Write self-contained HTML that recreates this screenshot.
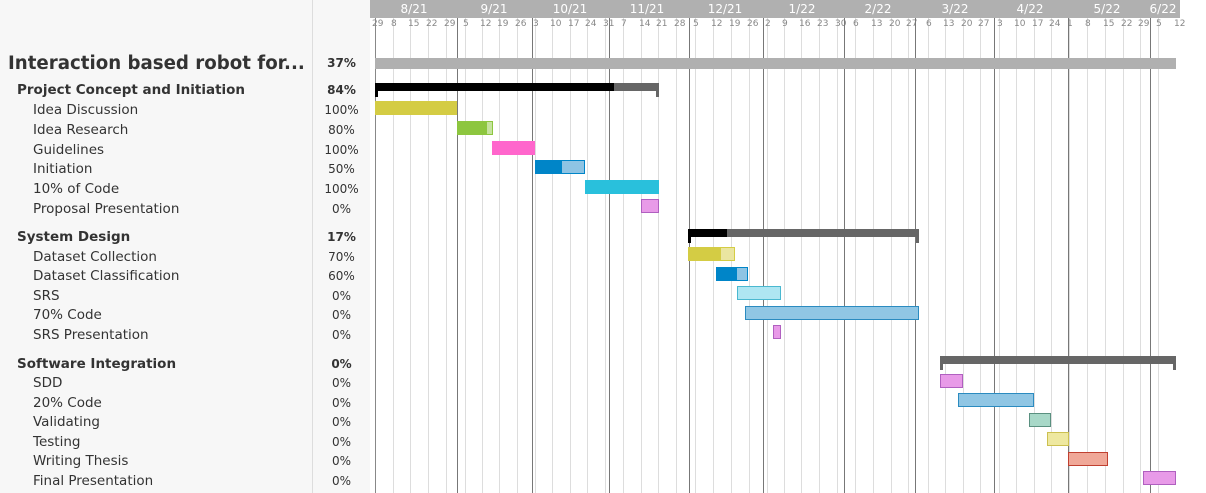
<!DOCTYPE html>
<html><head><meta charset="utf-8"><style>
*{margin:0;padding:0;box-sizing:border-box}
body{width:1206px;height:493px;position:relative;overflow:hidden;background:#fff;font-family:"DejaVu Sans","Liberation Sans",sans-serif;color:#333}
.a{position:absolute}
.lp{left:0;top:0;width:313px;height:493px;background:#f7f7f7;border-right:1px solid #ddd}
.pp{left:313px;top:0;width:57px;height:493px;background:#f7f7f7}
.t{position:absolute;white-space:nowrap;font-size:13.5px;line-height:16px}
.p{position:absolute;font-size:12px;line-height:16px;width:57px;left:313px;text-align:center}
.b{position:absolute;height:14px}
</style></head><body>
<div class="a lp"></div><div class="a pp"></div>
<div class="a" style="left:370px;top:0;width:810px;height:18px;background:#b0b0b0"></div>
<div id="g"></div>
<div id="r"></div>
<script>
var g='';
var weeks=[[375,'29'],[393,'8'],[410,'15'],[428,'22'],[446,'29'],[465,'5'],[482,'12'],[499,'19'],[517,'26'],[535,'3'],[552,'10'],[570,'17'],[587,'24'],[605,'31'],[623,'7'],[641,'14'],[658,'21'],[676,'28'],[695,'5'],[713,'12'],[731,'19'],[749,'26'],[767,'2'],[784,'9'],[801,'16'],[819,'23'],[837,'30'],[855,'6'],[873,'13'],[891,'20'],[908,'27'],[928,'6'],[945,'13'],[963,'20'],[980,'27'],[999,'3'],[1016,'10'],[1034,'17'],[1051,'24'],[1069,'1'],[1087,'8'],[1105,'15'],[1123,'22'],[1140,'29'],[1158,'5'],[1176,'12']];
weeks.forEach(function(w,i){
 if(i>0&&i<weeks.length-1) g+='<div class="a" style="left:'+w[0]+'px;top:18px;width:1px;height:475px;background:#ddd"></div>';
 g+='<div class="a" style="left:'+(w[0]-3+ (i==0?0:1))+'px;top:19px;font-size:9px;color:#888;line-height:11px">'+w[1]+'</div>';
});
g+='<div class="a" style="left:375px;top:18px;width:1px;height:475px;background:#888"></div>';
[457,532,609,689,763,844,915,994,1068,1150].forEach(function(x){g+='<div class="a" style="left:'+x+'px;top:18px;width:1px;height:475px;background:#777"></div>';});
[[414,'8/21'],[494,'9/21'],[570,'10/21'],[647,'11/21'],[725,'12/21'],[802,'1/22'],[878,'2/22'],[955,'3/22'],[1030,'4/22'],[1107,'5/22'],[1163,'6/22']].forEach(function(m){
 g+='<div class="a" style="left:'+(m[0]-30)+'px;width:60px;text-align:center;top:2px;font-size:12px;line-height:14px;color:#fff">'+m[1]+'</div>';});
document.getElementById('g').innerHTML=g;
var r='';
function T(x,y,s,st){r+='<div class="t" style="left:'+x+'px;top:'+(y-7)+'px;'+(st||'')+'">'+s+'</div>';}
function P(y,s,b){r+='<div class="p" style="top:'+(y-7)+'px;'+(b?'font-weight:bold':'')+'">'+s+'</div>';}
function B(x1,x2,y,c,bc){r+='<div class="b" style="left:'+x1+'px;width:'+(x2-x1)+'px;top:'+(y-7)+'px;background:'+c+';border:1px solid '+bc+'"></div>';}
function B2(x1,xm,x2,y,c1,c2,bc){r+='<div class="b" style="left:'+x1+'px;width:'+(x2-x1)+'px;top:'+(y-7)+'px;background:linear-gradient(90deg,'+c1+' 0,'+c1+' '+(xm-x1)+'px,'+c2+' '+(xm-x1)+'px);border:1px solid '+bc+'"></div>';}
function S(x1,xm,x2,y){r+='<div class="a" style="left:'+x1+'px;width:'+(x2-x1)+'px;top:'+y+'px;height:8px;background:linear-gradient(90deg,#000 0,#000 '+(xm-x1)+'px,#666 '+(xm-x1)+'px);"></div>';
 r+='<div class="a" style="left:'+x1+'px;top:'+y+'px;width:3px;height:14px;background:'+(xm>x1?'#000':'#666')+'"></div><div class="a" style="left:'+(x2-3)+'px;top:'+y+'px;width:3px;height:14px;background:#666"></div>';}
r+='<div class="t" style="left:8px;top:54px;font-size:18.2px;font-weight:bold;line-height:20px">Interaction based robot for...</div>';P(62,'37%',1);
r+='<div class="a" style="left:375px;top:58px;width:801px;height:11px;background:#b0b0b0"></div>';
var rows=[
[89,'Project Concept and Initiation','84%',1],[109,'Idea Discussion','100%'],[129,'Idea Research','80%'],[149,'Guidelines','100%'],[168,'Initiation','50%'],[188,'10% of Code','100%'],[208,'Proposal Presentation','0%'],
[236,'System Design','17%',1],[256,'Dataset Collection','70%'],[275,'Dataset Classification','60%'],[295,'SRS','0%'],[314,'70% Code','0%'],[334,'SRS Presentation','0%'],
[363,'Software Integration','0%',1],[382,'SDD','0%'],[402,'20% Code','0%'],[421,'Validating','0%'],[441,'Testing','0%'],[460,'Writing Thesis','0%'],[480,'Final Presentation','0%']];
rows.forEach(function(q){ if(q[3]) T(17,q[0],q[1],'font-weight:bold'); else T(33,q[0],q[1]); P(q[0],q[2],q[3]);});
S(375,614,659,83);
B(375,457,108,'#d4cc44','#d4cc44');
B2(457,486,493,128,'#8dc63f','#c6e39f','#8dc63f');
B(492,535,148,'#ff66cc','#ff66cc');
B2(535,561,585,167,'#0085c8','#8ec4e4','#0085c8');
B(585,659,187,'#29c0dc','#29c0dc');
B(641,659,206,'#e89ae8','#b060c0');
S(688,727,919,229);
B2(688,720,735,254,'#d4cc44','#eae5a0','#d4cc44');
B2(716,736,748,274,'#0085c8','#8ec4e4','#0085c8');
B(737,781,293,'#aee6f2','#4ab8d0');
B(745,919,313,'#90c6e4','#2b8bc0');
B(773,781,332,'#e89ae8','#b060c0');
S(940,940,1176,356);
B(940,963,381,'#e89ae8','#b060c0');
B(958,1034,400,'#90c6e4','#2b8bc0');
B(1029,1051,420,'#a8d8c8','#5a9080');
B(1047,1069,439,'#eee8a0','#ccc050');
B(1068,1108,459,'#f0a898','#c04030');
B(1143,1176,478,'#e89ae8','#b060c0');
document.getElementById('r').innerHTML=r;
</script>
</body></html>
